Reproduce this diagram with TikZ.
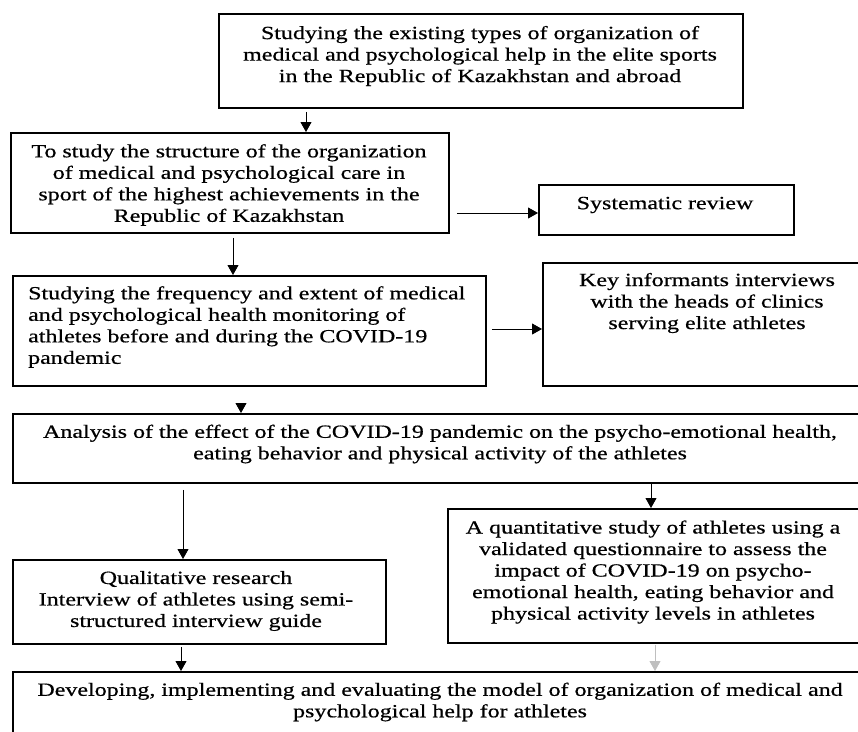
\documentclass[tikz,border=0pt]{standalone}
\usepackage{fontspec}
\setmainfont{Liberation Serif}[FakeStretch=1.29,FakeBold=0.6]
\usetikzlibrary{arrows.meta}
\begin{document}
\begin{tikzpicture}[x=1pt,y=-1pt,
  box/.style={draw=black, line width=1.8pt, rectangle, inner sep=0pt, anchor=north west},
  txt/.style={inner sep=0pt, align=center, font=\fontsize{18.6}{21.5}\selectfont},
  arr/.style={draw=black, line width=0.9pt, -{Triangle[width=11pt,length=10pt]}}]
\useasboundingbox (0,0) rectangle (858,731);
\clip (0,0) rectangle (858,731);
% boxes
\node[box, minimum width=524pt, minimum height=94pt] (b1) at (218,13) {};
\node[box, minimum width=438pt, minimum height=100pt] (b2) at (10,132) {};
\node[box, minimum width=255pt, minimum height=50pt] (bs) at (538,184) {};
\node[box, minimum width=473pt, minimum height=110pt] (b3) at (12,275) {};
\node[box, minimum width=330pt, minimum height=123pt] (bk) at (542,262) {};
\node[box, minimum width=860pt, minimum height=69pt] (b4) at (12,413) {};
\node[box, minimum width=425pt, minimum height=134pt] (bq) at (447,508) {};
\node[box, minimum width=373pt, minimum height=84pt] (bl) at (12,559) {};
\node[box, minimum width=860pt, minimum height=80pt] (bf) at (12,671) {};
% texts
\node[txt] (t1) at (480,56) {Studying the existing types of organization of\\medical and psychological help in the elite sports\\in the Republic of Kazakhstan and abroad};
\node[txt] (t2) at (229,185) {To study the structure of the organization\\of medical and psychological care in\\sport of the highest achievements in the\\Republic of Kazakhstan};
\node[txt] (ts) at (665,205) {Systematic review};
\node[txt, align=left, anchor=west] (t3) at (28,327) {Studying the frequency and extent of medical\\and psychological health monitoring of\\athletes before and during the COVID-19\\pandemic};
\node[txt] (tk) at (707,303) {Key informants interviews\\with the heads of clinics\\serving elite athletes};
\node[txt] (t4) at (440,444) {Analysis of the effect of the COVID-19 pandemic on the psycho-emotional health,\\eating behavior and physical activity of the athletes};
\node[txt] (tq) at (653,572) {A quantitative study of athletes using a\\validated questionnaire to assess the\\impact of COVID-19 on psycho-\\emotional health, eating behavior and\\physical activity levels in athletes};
\node[txt] (tl) at (196,601) {Qualitative research\\Interview of athletes using semi-\\structured interview guide};
\node[txt] (tf) at (440,702) {Developing, implementing and evaluating the model of organization of medical and\\psychological help for athletes};
% arrow x/y references
\coordinate (c12) at (306,0);
\coordinate (c2s) at (0,213);
\coordinate (c23) at (233,0);
\coordinate (c3k) at (0,329);
\coordinate (c34) at (241,0);
\coordinate (c4q) at (651,0);
\coordinate (c4l) at (183,0);
\coordinate (clf) at (181,0);
\coordinate (cqf) at (655,0);
% connectors
\draw[arr, shorten <=3pt] (b1.south -| c12) -- (b2.north -| c12);
\draw[arr, shorten <=7pt] (b2.east |- c2s) -- (bs.west |- c2s);
\draw[arr, shorten <=4pt] (b2.south -| c23) -- (b3.north -| c23);
\draw[arr, shorten <=5pt] (b3.east |- c3k) -- (bk.west |- c3k);
\draw[arr, shorten <=17pt] (b3.south -| c34) -- (b4.north -| c34);
\draw[arr] (b4.south -| c4q) -- (bq.north -| c4q);
\draw[arr, shorten <=6pt] (b4.south -| c4l) -- (bl.north -| c4l);
\draw[arr, shorten <=2pt] (bl.south -| clf) -- (bf.north -| clf);
\draw[arr, draw=black!25, shorten <=1pt] (bq.south -| cqf) -- (bf.north -| cqf);
\end{tikzpicture}
\end{document}
